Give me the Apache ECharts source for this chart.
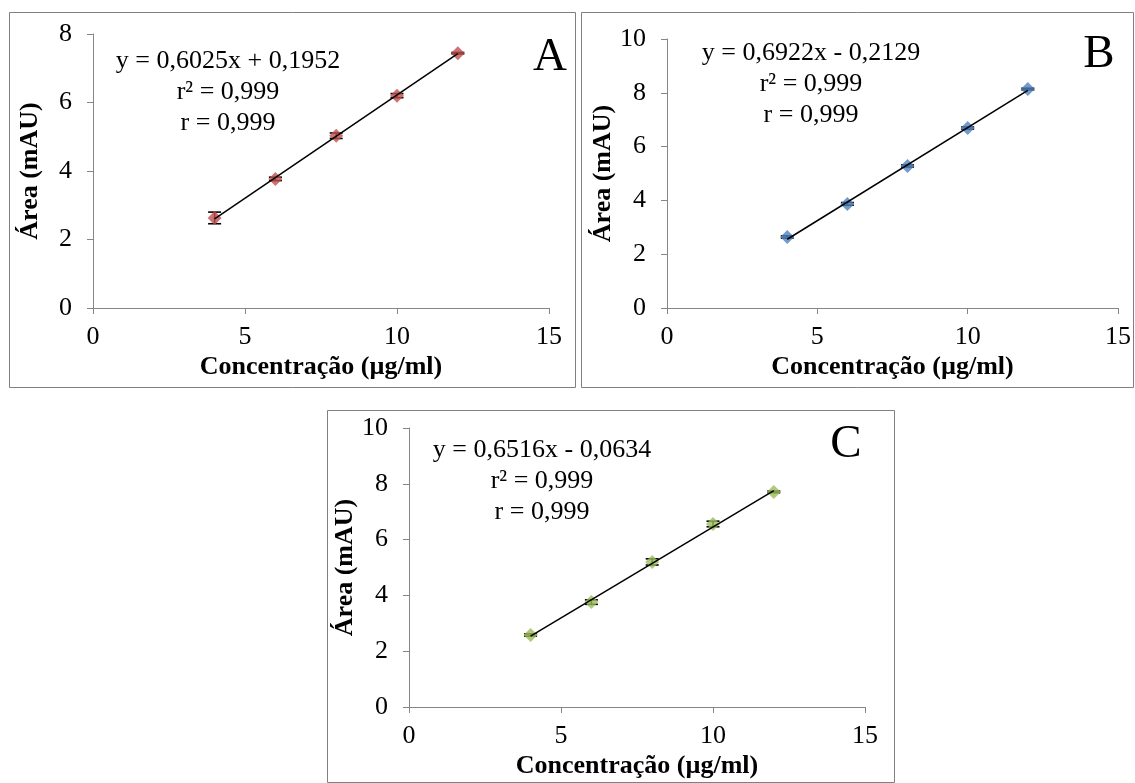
<!DOCTYPE html>
<html>
<head>
<meta charset="utf-8">
<script src="https://cdn.jsdelivr.net/npm/echarts@6/dist/echarts.min.js"></script>
<style>
html,body{margin:0;padding:0;background:#fff;}
#chart{width:1135px;height:783px;}
</style>
</head>
<body>
<div id="chart"></div>
<script>
// ---- data ----
const concentrations = [4, 6, 8, 10, 12];
const areaA = [2.63, 3.77, 5.03, 6.20, 7.44];
const areaB = [2.64, 3.87, 5.28, 6.69, 8.14];
const areaC = [2.58, 3.76, 5.20, 6.56, 7.71];
const errA = [0.17, 0.05, 0.08, 0.06, 0.02];
const errB = [0.04, 0.05, 0.04, 0.04, 0.03];
const errC = [0.04, 0.08, 0.11, 0.10, 0.03];
const trendX = [4, 12];
const trendA = [2.605, 7.425];
const trendB = [2.556, 8.094];
const trendC = [2.543, 7.756];
const equations = [
  ['y = 0,6025x + 0,1952', 'r² = 0,999', 'r = 0,999'],
  ['y = 0,6922x - 0,2129', 'r² = 0,999', 'r = 0,999'],
  ['y = 0,6516x - 0,0634', 'r² = 0,999', 'r = 0,999']
];
const panelLetters = ['A', 'B', 'C'];
const xTitle = 'Concentração (µg/ml)';
const yTitle = 'Área (mAU)';
const xMax = 15, xInterval = 5;
const yMaxes = [8, 10, 10];
const yInterval = 2;
const colors = ['#C0504D', '#4F81BD', '#9BBB59'];

const FONT = "'Liberation Serif', 'Times New Roman', serif";
const axisGray = '#868686';

const grids = [
  {left: 93, right: 1135 - 549, top: 34, bottom: 783 - 308},
  {left: 667, right: 1135 - 1118, top: 39, bottom: 783 - 308},
  {left: 409, right: 1135 - 865, top: 428, bottom: 783 - 707}
];

const xAxes = grids.map((g, i) => ({
  gridIndex: i, type: 'value', min: 0, max: xMax, interval: xInterval,
  name: xTitle, nameLocation: 'middle', nameGap: 46,
  nameTextStyle: {fontFamily: FONT, fontSize: 26, fontWeight: 'bold', color: '#000'},
  axisLine: {show: true, onZero: false, lineStyle: {color: axisGray, width: 1}},
  axisTick: {show: true, length: 6, lineStyle: {color: axisGray}},
  axisLabel: {fontFamily: FONT, fontSize: 26, color: '#000', margin: 16},
  splitLine: {show: false}
}));
const yAxes = grids.map((g, i) => ({
  gridIndex: i, type: 'value', min: 0, max: yMaxes[i], interval: yInterval,
  name: yTitle, nameLocation: 'middle', nameGap: 50,
  nameTextStyle: {fontFamily: FONT, fontSize: 26, fontWeight: 'bold', color: '#000'},
  axisLine: {show: true, onZero: false, lineStyle: {color: axisGray, width: 1}},
  axisTick: {show: true, length: 6, lineStyle: {color: axisGray}},
  axisLabel: {fontFamily: FONT, fontSize: 26, color: '#000', margin: 21},
  splitLine: {show: false}
}));

const areas = [areaA, areaB, areaC];
const errs = [errA, errB, errC];
const trends = [trendA, trendB, trendC];

const series = [];
for (let i = 0; i < 3; i++) {
  const pts = concentrations.map((x, k) => [x, areas[i][k]]);
  const errData = concentrations.map((x, k) => [x, areas[i][k] - errs[i][k], areas[i][k] + errs[i][k]]);
  series.push({
    type: 'custom', xAxisIndex: i, yAxisIndex: i, z: 1,
    data: errData,
    renderItem: function (params, api) {
      const x = api.value(0);
      const lo = api.coord([x, api.value(1)]);
      const hi = api.coord([x, api.value(2)]);
      const hw = 6.5;
      const st = {stroke: '#000', lineWidth: 1.6};
      return {type: 'group', children: [
        {type: 'line', shape: {x1: lo[0], y1: lo[1], x2: hi[0], y2: hi[1]}, style: st},
        {type: 'line', shape: {x1: lo[0] - hw, y1: lo[1], x2: lo[0] + hw, y2: lo[1]}, style: st},
        {type: 'line', shape: {x1: hi[0] - hw, y1: hi[1], x2: hi[0] + hw, y2: hi[1]}, style: st}
      ]};
    }
  });
  series.push({
    type: 'scatter', xAxisIndex: i, yAxisIndex: i, z: 2,
    symbol: 'diamond', symbolSize: 14,
    itemStyle: {color: colors[i]},
    data: pts
  });
  series.push({
    type: 'line', xAxisIndex: i, yAxisIndex: i, z: 3,
    symbol: 'none', lineStyle: {color: '#000', width: 1.5},
    data: trendX.map((x, k) => [x, trends[i][k]])
  });
}

const borders = [
  [9.5, 12.5, 566, 375],
  [581.5, 12.5, 552, 375],
  [327.5, 410.5, 567, 372]
];
const eqPos = [[228, 46], [811, 38], [542, 435]];
const letterPos = [[550, 58], [1099, 55], [846, 445]];

const graphic = [];
borders.forEach(b => graphic.push({
  type: 'rect', shape: {x: b[0], y: b[1], width: b[2], height: b[3]},
  style: {fill: 'none', stroke: '#808080', lineWidth: 1}, silent: true
}));
equations.forEach((eq, i) => graphic.push({
  type: 'text', x: eqPos[i][0], y: eqPos[i][1],
  style: {text: eq.join('\n'), font: '26px ' + FONT, fill: '#000',
          textAlign: 'center', textVerticalAlign: 'top', lineHeight: 31}
}));
panelLetters.forEach((L, i) => graphic.push({
  type: 'text', x: letterPos[i][0], y: letterPos[i][1],
  style: {text: L, font: '47px ' + FONT, fill: '#000',
          textAlign: 'center', textVerticalAlign: 'middle'}
}));

const chart = echarts.init(document.getElementById('chart'), null, {renderer: 'canvas'});
chart.setOption({
  animation: false,
  backgroundColor: '#fff',
  grid: grids,
  xAxis: xAxes,
  yAxis: yAxes,
  series: series,
  graphic: graphic
});
</script>
</body>
</html>
